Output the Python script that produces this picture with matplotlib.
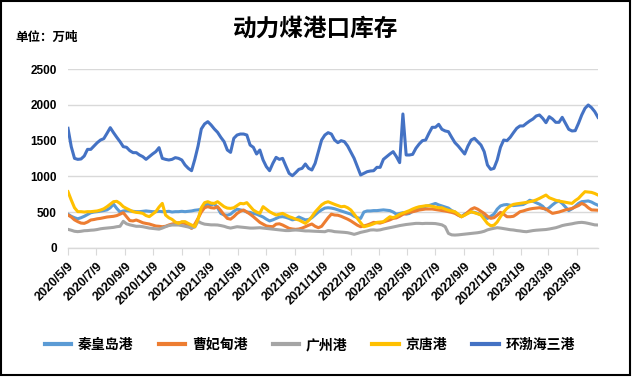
import datetime as dt
import matplotlib
matplotlib.use("Agg")
import matplotlib.pyplot as plt
import matplotlib.dates as mdates
from matplotlib.ticker import FuncFormatter
from matplotlib.patches import Rectangle

plt.rcParams['font.family'] = ['Noto Sans CJK SC', 'DejaVu Sans']

# weekly observations starting 2020/5/9
start = dt.date(2020, 5, 9)
n_weeks = 164
dates = [start + dt.timedelta(days=7 * i) for i in range(n_weeks)]

series_names = ["秦皇岛港", "曹妃甸港", "广州港", "京唐港", "环渤海三港"]
series_colors = ["#5B9BD5", "#ED7D31", "#A5A5A5", "#FFC000", "#4472C4"]

qinhuangdao = [
    470, 440, 420, 405, 420, 440, 465, 490, 500, 505,
    512, 520, 530, 560, 610, 550, 500, 515, 520, 515,
    510, 505, 505, 510, 515, 510, 505, 505, 510, 505,
    505, 510, 500, 505, 505, 510, 505, 510, 515, 525,
    530, 540, 600, 610, 600, 615, 560, 480, 460, 455,
    470, 510, 540, 530, 520, 500, 495, 480, 470, 450,
    430, 400, 375, 390, 410, 430, 435, 425, 410, 390,
    400, 430, 410, 390, 395, 420, 460, 500, 530, 555,
    560, 555, 545, 530, 515, 500, 485, 470, 440, 420,
    410, 500, 515, 515, 520, 520, 525, 530, 525, 520,
    500, 470, 480, 490, 470, 480, 510, 530, 550, 560,
    580, 590, 605, 620, 600, 585, 570, 555, 520, 500,
    460, 435, 470, 490, 500, 495, 480, 460, 430, 410,
    440, 470, 540, 585, 600, 605, 595, 590, 595, 600,
    605, 630, 665, 650, 630, 610, 580, 530, 560, 600,
    635, 655, 620, 570, 520, 545, 580, 620, 645, 650,
    655, 640, 615, 595,
]
caofeidian = [
    458, 430, 390, 365, 345, 341, 360, 388, 395, 405,
    411, 420, 430, 435, 440, 450, 470, 490, 435, 380,
    375, 388, 370, 350, 340, 332, 318, 304, 300, 294,
    300, 318, 332, 340, 350, 348, 341, 310, 271, 330,
    411, 500, 560, 575, 560, 555, 575, 520, 460, 410,
    400, 435, 480, 510, 528, 500, 470, 435, 395, 355,
    330, 305, 298, 294, 330, 335, 318, 295, 271, 262,
    257, 262, 275, 294, 315, 332, 300, 280, 300, 360,
    420, 470, 458, 455, 440, 420, 400, 375, 345, 315,
    294, 305, 318, 335, 355, 350, 345, 360, 374, 390,
    411, 418, 440, 467, 480, 495, 504, 515, 528, 535,
    542, 542, 542, 535, 528, 520, 514, 505, 495, 481,
    455, 434, 460, 500, 540, 560, 540, 510, 480, 440,
    411, 420, 455, 495, 470, 434, 434, 440, 470, 504,
    515, 530, 542, 550, 555, 560, 550, 542, 510, 481,
    490, 500, 515, 530, 540, 550, 570, 590, 621, 600,
    560, 530, 528, 525,
]
guangzhou = [
    257, 245, 230, 225, 230, 238, 240, 245, 248, 255,
    265, 271, 275, 280, 285, 294, 300, 370, 335, 320,
    310, 300, 300, 294, 285, 275, 270, 265, 260, 275,
    294, 310, 318, 318, 318, 310, 300, 290, 275, 290,
    370, 345, 330, 325, 320, 320, 318, 310, 300, 285,
    275, 285, 294, 290, 285, 280, 275, 275, 278, 280,
    275, 270, 265, 260, 255, 250, 245, 240, 240, 245,
    248, 245, 240, 235, 235, 232, 230, 228, 226, 224,
    240, 235, 225, 222, 220, 215, 210, 200, 187, 200,
    215, 225, 235, 248, 250, 245, 250, 262, 271, 280,
    290, 300, 310, 318, 325, 330, 335, 341, 341, 338,
    341, 341, 340, 338, 330, 320, 294, 200, 180, 177,
    180, 185, 190, 195, 200, 205, 210, 218, 230, 250,
    262, 272, 280, 275, 268, 260, 252, 248, 240, 235,
    228, 224, 232, 240, 245, 248, 250, 255, 262, 271,
    280, 294, 310, 320, 327, 335, 345, 352, 355, 350,
    341, 330, 320, 318,
]
jingtang = [
    785, 668, 560, 505, 505, 500, 505, 505, 510, 515,
    528, 545, 575, 610, 645, 650, 620, 575, 550, 528,
    505, 495, 490, 481, 450, 435, 470, 505, 570, 621,
    458, 420, 397, 360, 341, 365, 365, 340, 318, 294,
    400, 560, 631, 645, 625, 621, 645, 610, 575, 555,
    551, 560, 590, 621, 615, 631, 580, 528, 500, 481,
    575, 540, 505, 480, 458, 470, 481, 458, 435, 420,
    400, 388, 365, 341, 380, 435, 500, 551, 600, 630,
    644, 625, 607, 590, 574, 580, 560, 528, 470, 411,
    350, 294, 305, 318, 335, 355, 360, 364, 400, 434,
    420, 440, 467, 485, 504, 520, 542, 560, 574, 580,
    588, 588, 580, 570, 560, 560, 540, 525, 515, 504,
    470, 434, 455, 480, 504, 490, 475, 458, 400, 340,
    308, 315, 360, 434, 500, 551, 585, 607, 615, 621,
    628, 635, 645, 654, 670, 691, 715, 738, 700, 682,
    665, 654, 645, 635, 628, 621, 660, 691, 740, 785,
    780, 775, 760, 738,
]
bohai = [
    1673, 1416, 1252, 1238, 1243, 1285, 1378, 1378, 1425, 1472,
    1509, 1528, 1603, 1682, 1612, 1547, 1486, 1416, 1407, 1360,
    1332, 1332, 1299, 1276, 1238, 1276, 1313, 1346, 1402, 1252,
    1238, 1229, 1238, 1262, 1252, 1229, 1159, 1112, 1079, 1238,
    1425, 1664, 1734, 1766, 1720, 1664, 1617, 1547, 1486, 1369,
    1336, 1533, 1579, 1593, 1593, 1579, 1439, 1407, 1313, 1369,
    1229, 1136, 1079, 1182, 1266, 1238, 1252, 1145, 1042, 1009,
    1051, 1098, 1112, 1173, 1112, 1089, 1182, 1346,
    1509, 1579, 1612, 1593, 1509, 1472, 1500, 1486, 1425, 1340,
    1252, 1136, 1019, 1042, 1065, 1075, 1079, 1126, 1126, 1238,
    1276, 1313, 1346, 1276, 1192, 1874, 1299, 1299, 1308, 1393,
    1453, 1500, 1509, 1603, 1687, 1687, 1729, 1659, 1636, 1626,
    1547, 1472, 1425, 1369, 1313, 1425, 1509, 1533, 1486, 1439,
    1346, 1159, 1098, 1112, 1229, 1407, 1509, 1500, 1547, 1612,
    1673, 1706, 1706, 1743, 1776, 1804, 1846, 1860, 1813, 1752,
    1836, 1804, 1757, 1757, 1827, 1743, 1659, 1636, 1640, 1743,
    1860, 1953, 2000, 1963, 1907, 1827,
]
y_ticks = [0, 500, 1000, 1500, 2000, 2500]

fig = plt.figure(figsize=(6.32, 3.77), dpi=100)
ax = fig.add_axes([68 / 632, 1 - 247.7 / 377, 530 / 632, 178.4 / 377])

all_series = [qinhuangdao, caofeidian, guangzhou, jingtang, bohai]
for name, color, vals in zip(series_names, series_colors, all_series):
    ax.plot(dates, vals, color=color, linewidth=2.2, label=name,
            solid_joinstyle="round")

ax.set_ylim(0, 2500)
ax.set_yticks(y_ticks)
ax.set_xlim(dates[0], dates[-1])
ax.grid(axis="y", color="#D9D9D9", linewidth=1)
ax.set_axisbelow(True)
for side in ["left", "right", "top"]:
    ax.spines[side].set_visible(False)
ax.spines["bottom"].set_color("#D9D9D9")
ax.spines["bottom"].set_linewidth(1)

ax.xaxis.set_major_locator(mdates.MonthLocator(bymonth=[1, 3, 5, 7, 9, 11], bymonthday=9))
ax.xaxis.set_major_formatter(FuncFormatter(
    lambda x, pos: (lambda d: f"{d.year}/{d.month}/{d.day}")(mdates.num2date(x))))
ax.tick_params(axis="x", direction="out", length=5, color="#D9D9D9", pad=4)
ax.tick_params(axis="y", length=0, pad=8)
for lab in ax.get_xticklabels():
    lab.set_rotation(45)
    lab.set_ha("right")
    lab.set_va("top")
    lab.set_rotation_mode("anchor")
    lab.set_fontsize(9)
    lab.set_fontweight("bold")
    lab.set_family(["Liberation Sans", "DejaVu Sans"])
for lab in ax.get_yticklabels():
    lab.set_fontsize(8.5)
    lab.set_fontweight("bold")
    lab.set_family(["Liberation Sans", "DejaVu Sans"])

fig.text(316 / 632, 1 - 29 / 377, "动力煤港口库存", ha="center", va="center",
         fontsize=17, fontweight="bold")
fig.text(15 / 632, 1 - 37 / 377, "单位：万吨", ha="left", va="center",
         fontsize=9, fontweight="bold")

fig.legend(loc="center", bbox_to_anchor=(310 / 632, 1 - 345 / 377), ncol=5,
           frameon=False, handlelength=1.9, handletextpad=0.5, columnspacing=1.8,
           prop={"size": 10, "weight": "bold"})
for line in fig.legends[0].get_lines():
    line.set_linewidth(3)

fig.patches.append(Rectangle((0.001, 0.004), 0.996, 0.994, transform=fig.transFigure,
                             fill=False, edgecolor="black", linewidth=1.5))

fig.savefig("out.png", dpi=100)
